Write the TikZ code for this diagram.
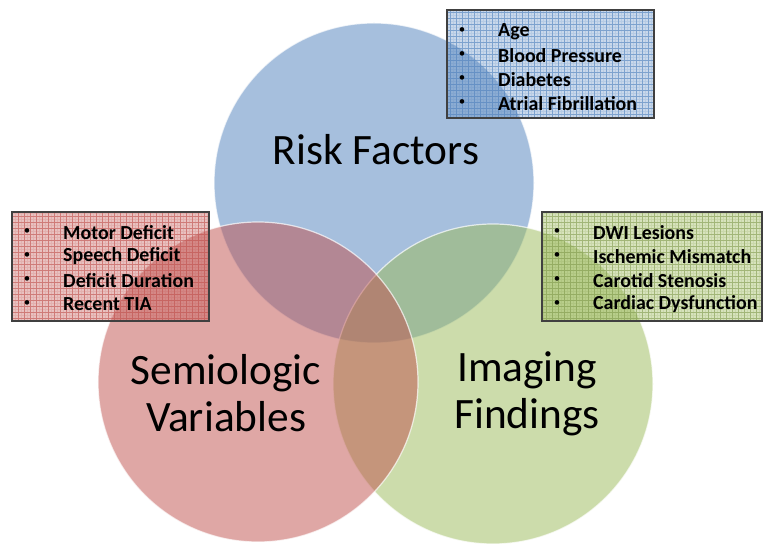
\documentclass[tikz,border=0pt]{standalone}
\usepackage{fontspec}
\setmainfont{Carlito}
\begin{document}
\begin{tikzpicture}[x=1bp,y=1bp,
  venn/.style={circle, minimum size=320bp, inner sep=0pt, fill opacity=0.5, draw=white, draw opacity=0.7, line width=1.2bp},
  biglabel/.style={font=\fontsize{43.5}{47}\selectfont, align=center, text=black},
  listbox/.style={draw=black!75, line width=1.1bp},
  item/.style={font=\bfseries\fontsize{20}{22}\selectfont, anchor=west, inner sep=0pt, yshift=-1.5bp},
  bul/.style={font=\fontsize{13}{15}\selectfont, anchor=center, inner sep=0pt, yshift=-1bp}
]
\definecolor{cblue}{HTML}{4F81BD}
\definecolor{cred}{HTML}{C0504D}
\definecolor{cgreen}{HTML}{9BBB59}
\useasboundingbox (0,0) rectangle (763,546);
\fill[white] (0,0) rectangle (763,546);

% circles
\node[venn, fill=cblue] (risk) at (374,363) {};
\node[venn, fill=cgreen] (imag) at (493,162) {};
\node[venn, fill=cred] (semio) at (258,164) {};

% big labels
\node[biglabel] (lrisk) at (376,396) {Risk Factors};
\node[biglabel] (lsemio) at (226,152.5) {Semiologic\\Variables};
\node[biglabel] (limag) at (527,152.5) {Imaging\\Findings};

% top box
\fill[cblue, fill opacity=0.3] (447,428) rectangle (654,536);
\begin{scope}
\clip (447,428) rectangle (654,536);
\draw[cblue, opacity=0.15, line width=0.4bp, step=3bp] (444,426) grid (657,539);
\draw[cblue, opacity=0.55, line width=0.6bp, step=6bp] (444,426) grid (657,539);
\end{scope}
\node[listbox, minimum width=207bp, minimum height=108bp, inner sep=0pt] (boxrisk) at (550.5,482) {};
\node[bul] (b1) at (462,516) {•};
\node[bul] (b2) at (462,492) {•};
\node[bul] (b3) at (462,468) {•};
\node[bul] (b4) at (462,444) {•};
\node[item] (t1) at (498,516) {Age};
\node[item] (t2) at (498,492) {Blood Pressure};
\node[item] (t3) at (498,468) {Diabetes};
\node[item] (t4) at (498,444) {Atrial Fibrillation};

% left box
\fill[cred, fill opacity=0.35] (12,225) rectangle (209,334);
\begin{scope}
\clip (12,225) rectangle (209,334);
\draw[cred, opacity=0.15, line width=0.4bp, step=3bp] (9,222) grid (212,337);
\draw[cred, opacity=0.55, line width=0.6bp, step=6bp] (9,222) grid (212,337);
\end{scope}
\node[listbox, minimum width=197bp, minimum height=109bp, inner sep=0pt] (boxsemio) at (110.5,279.5) {};
\node[bul] (c1) at (27,315) {•};
\node[bul] (c2) at (27,291) {•};
\node[bul] (c3) at (27,267) {•};
\node[bul] (c4) at (27,243) {•};
\node[item] (s1) at (63,315) {Motor Deficit};
\node[item] (s2) at (63,291) {Speech Deficit};
\node[item] (s3) at (63,267) {Deficit Duration};
\node[item] (s4) at (63,243) {Recent TIA};

% right box
\fill[cgreen, fill opacity=0.4] (542,225) rectangle (762,334);
\begin{scope}
\clip (542,225) rectangle (762,334);
\draw[cgreen!80!black, opacity=0.15, line width=0.4bp, step=3bp] (539,222) grid (765,337);
\draw[cgreen!80!black, opacity=0.5, line width=0.6bp, step=6bp] (539,222) grid (765,337);
\end{scope}
\node[listbox, minimum width=220bp, minimum height=109bp, inner sep=0pt] (boximag) at (652,279.5) {};
\node[bul] (d1) at (557,315) {•};
\node[bul] (d2) at (557,291) {•};
\node[bul] (d3) at (557,267) {•};
\node[bul] (d4) at (557,243) {•};
\node[item] (g1) at (593,315) {DWI Lesions};
\node[item] (g2) at (593,291) {Ischemic Mismatch};
\node[item] (g3) at (593,267) {Carotid Stenosis};
\node[item] (g4) at (593,243) {Cardiac Dysfunction};
\end{tikzpicture}
\end{document}
